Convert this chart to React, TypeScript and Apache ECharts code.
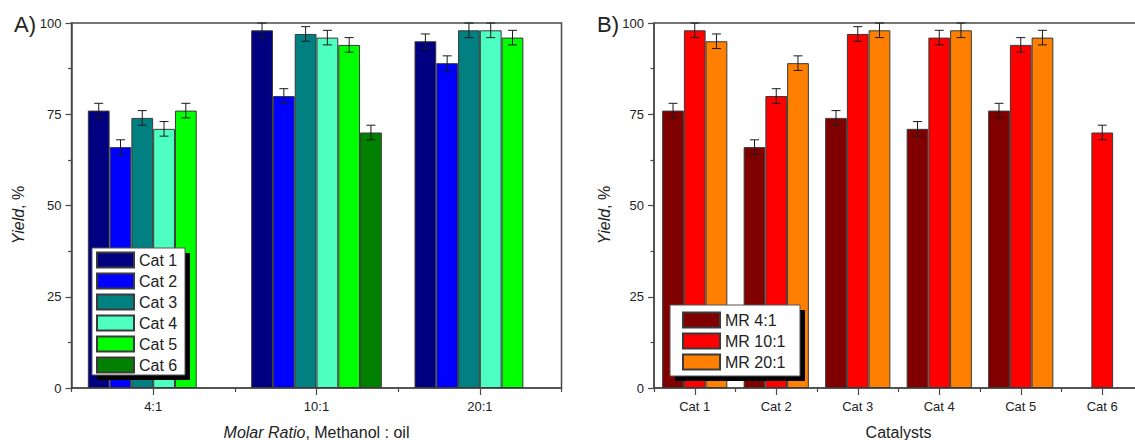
import React, { useEffect, useRef } from 'react';
import * as echarts from 'echarts';

// ---------- data ----------
const ratioCategories = ['4:1', '10:1', '20:1'];
const catalystNames = ['Cat 1', 'Cat 2', 'Cat 3', 'Cat 4', 'Cat 5', 'Cat 6'];
const cat1Yield = [76, 98, 95];
const cat2Yield = [66, 80, 89];
const cat3Yield = [74, 97, 98];
const cat4Yield = [71, 96, 98];
const cat5Yield = [76, 94, 96];
const cat6Yield = [null, 70, null];
const catError = [2, 2, 2];

const catalystCategories = ['Cat 1', 'Cat 2', 'Cat 3', 'Cat 4', 'Cat 5', 'Cat 6'];
const mrNames = ['MR 4:1', 'MR 10:1', 'MR 20:1'];
const mr4Yield = [76, 66, 74, 71, 76, null];
const mr10Yield = [98, 80, 97, 96, 94, 70];
const mr20Yield = [95, 89, 98, 98, 96, null];
const mrError = [2, 2, 2, 2, 2, 2];

const yTickValues = [0, 25, 50, 75, 100];

// ---------- styles ----------
const catColors = ['#000080', '#0000FF', '#008080', '#4DFFC0', '#00FF00', '#008000'];
const mrColors = ['#800000', '#FF0000', '#FF8000'];
const FONT = '"Liberation Sans", Arial, sans-serif';
const AXIS_COLOR = '#4a4a4a';
const TEXT_COLOR = '#222';

function errorSeries(values: (number | null)[], errors: number[], idx: number, n: number, axisIndex: number) {
  const data = values
    .map((v, i) => (v == null ? null : [i, v, errors[i]]))
    .filter((d) => d !== null);
  return {
    type: 'custom',
    name: 'err' + axisIndex + '_' + idx,
    xAxisIndex: axisIndex * 2,
    yAxisIndex: axisIndex,
    z: 5,
    silent: true,
    encode: { x: 0, y: 1 },
    data,
    renderItem: (params: any, api: any) => {
      const ci = api.value(0);
      const v = api.value(1);
      const e = api.value(2);
      const c = api.coord([ci, v]);
      const band = api.size([1, 0])[0];
      const bw = (band * 0.8) / n;
      const x = c[0] - band * 0.4 + bw * (idx + 0.5);
      const top = api.coord([ci, v + e])[1];
      const bot = api.coord([ci, v - e])[1];
      const cap = 4.5;
      const style = { stroke: '#1a1a1a', lineWidth: 1 };
      return {
        type: 'group',
        children: [
          { type: 'line', shape: { x1: x, y1: top, x2: x, y2: bot }, style },
          { type: 'line', shape: { x1: x - cap, y1: top, x2: x + cap, y2: top }, style },
          { type: 'line', shape: { x1: x - cap, y1: bot, x2: x + cap, y2: bot }, style },
        ],
      };
    },
  };
}

function barSeries(name: string, values: (number | null)[], color: string, axisIndex: number) {
  return {
    type: 'bar',
    name,
    xAxisIndex: axisIndex * 2,
    yAxisIndex: axisIndex,
    data: values,
    barGap: '0%',
    barCategoryGap: '20%',
    itemStyle: { color, borderColor: '#3a3a3a', borderWidth: 1 },
    z: 2,
  };
}

function catAxes(data: string[], gridIndex: number) {
  return [
    {
      type: 'category',
      gridIndex,
      data,
      position: 'bottom',
      axisLine: { show: true, onZero: false, lineStyle: { color: AXIS_COLOR, width: 1.5 } },
      axisTick: { show: true, alignWithLabel: true, length: 7, lineStyle: { color: AXIS_COLOR, width: 1.2 } },
      axisLabel: { show: true, margin: 12, fontSize: 13, fontFamily: FONT, color: TEXT_COLOR },
      splitLine: { show: false },
    },
    {
      type: 'category',
      gridIndex,
      data,
      position: 'bottom',
      axisLine: { show: false, onZero: false },
      axisTick: { show: true, alignWithLabel: false, length: 4, lineStyle: { color: AXIS_COLOR, width: 1.2 } },
      axisLabel: { show: false },
      splitLine: { show: false },
    },
  ];
}

function valAxis(gridIndex: number) {
  return {
    type: 'value',
    gridIndex,
    min: yTickValues[0],
    max: yTickValues[yTickValues.length - 1],
    interval: yTickValues[1] - yTickValues[0],
    axisLine: { show: true, lineStyle: { color: AXIS_COLOR, width: 1.5 } },
    axisTick: { show: true, length: 6, lineStyle: { color: AXIS_COLOR, width: 1.2 } },
    minorTick: { show: true, splitNumber: 2, length: 3.5, lineStyle: { color: AXIS_COLOR, width: 1.2 } },
    axisLabel: { margin: 10, fontSize: 13, fontFamily: FONT, color: TEXT_COLOR },
    splitLine: { show: false },
    minorSplitLine: { show: false },
  };
}

export default function App() {
  const ref = useRef<HTMLDivElement>(null);
  useEffect(() => {
    if (!ref.current) return;
    const chart = echarts.init(ref.current, null, { renderer: 'svg' });
    const leftVals = [cat1Yield, cat2Yield, cat3Yield, cat4Yield, cat5Yield, cat6Yield];
    const rightVals = [mr4Yield, mr10Yield, mr20Yield];

    const series: any[] = [];
    catalystNames.forEach((nm, i) => series.push(barSeries(nm, leftVals[i], catColors[i], 0)));
    mrNames.forEach((nm, i) => series.push(barSeries(nm, rightVals[i], mrColors[i], 1)));
    catalystNames.forEach((_, i) => series.push(errorSeries(leftVals[i], catError, i, catalystNames.length, 0)));
    mrNames.forEach((_, i) => series.push(errorSeries(rightVals[i], mrError, i, mrNames.length, 1)));

    const xNameStyle = {
      fontSize: 16,
      fontFamily: FONT,
      color: TEXT_COLOR,
      rich: { i: { fontStyle: 'italic', fontSize: 16, fontFamily: FONT, color: TEXT_COLOR } },
    };
    const xAxes: any[] = [...catAxes(ratioCategories, 0), ...catAxes(catalystCategories, 1)];
    xAxes[0].name = '{i|Molar Ratio}, Methanol : oil';
    xAxes[0].nameLocation = 'middle';
    xAxes[0].nameGap = 36;
    xAxes[0].nameTextStyle = xNameStyle;
    xAxes[2].name = 'Catalysts';
    xAxes[2].nameLocation = 'middle';
    xAxes[2].nameGap = 36;
    xAxes[2].nameTextStyle = xNameStyle;

    const yName = (x: number) => ({
      type: 'text',
      x,
      y: 215,
      rotation: Math.PI / 2,
      z: 10,
      style: {
        text: '{i|Yield}, %',
        align: 'center',
        verticalAlign: 'middle',
        fontSize: 16,
        fontFamily: FONT,
        fill: TEXT_COLOR,
        rich: { i: { fontStyle: 'italic', fontSize: 16, fontFamily: FONT, fill: TEXT_COLOR } },
      },
    });

    const legendBox = (x: number, y: number, w: number, h: number) => [
      { type: 'rect', z: 3, shape: { x: x + 5, y: y + 5, width: w, height: h }, style: { fill: '#000' } },
      { type: 'rect', z: 3, shape: { x, y, width: w, height: h }, style: { fill: '#fff', stroke: '#555', lineWidth: 1 } },
    ];

    const legendCommon = {
      orient: 'vertical',
      icon: 'rect',
      itemWidth: 37,
      itemHeight: 15,
      itemGap: 4,
      padding: 0,
      z: 4,
      selectedMode: false,
      textStyle: { fontSize: 16, fontFamily: FONT, color: TEXT_COLOR, lineHeight: 15 },
    };

    const gridCommon = {
      show: true,
      borderColor: AXIS_COLOR,
      borderWidth: 1.5,
      backgroundColor: 'transparent',
      containLabel: false,
      outerBoundsMode: 'none',
    };

    chart.setOption({
      animation: false,
      backgroundColor: '#fff',
      grid: [
        { ...gridCommon, left: 71.5, top: 23, width: 490, height: 365 },
        { ...gridCommon, left: 654, top: 23, width: 489, height: 365 },
      ],
      xAxis: xAxes,
      yAxis: [valAxis(0), valAxis(1)],
      legend: [
        { ...legendCommon, data: catalystNames, left: 96, top: 251.5 },
        { ...legendCommon, data: mrNames, left: 682, top: 311.5 },
      ],
      graphic: [
        ...legendBox(92, 248, 93, 127),
        ...legendBox(670, 305, 130, 71),
        yName(18.5),
        yName(604),
        { type: 'text', x: 14, y: 24, z: 10, style: { text: 'A)', fontSize: 22, fontFamily: FONT, fill: TEXT_COLOR, verticalAlign: 'middle' } },
        { type: 'text', x: 597, y: 24, z: 10, style: { text: 'B)', fontSize: 22, fontFamily: FONT, fill: TEXT_COLOR, verticalAlign: 'middle' } },
      ],
      series,
    });
    return () => chart.dispose();
  }, []);
  return <div ref={ref} style={{ position: 'fixed', left: 0, top: 0, width: 1135, height: 440 }} />;
}
